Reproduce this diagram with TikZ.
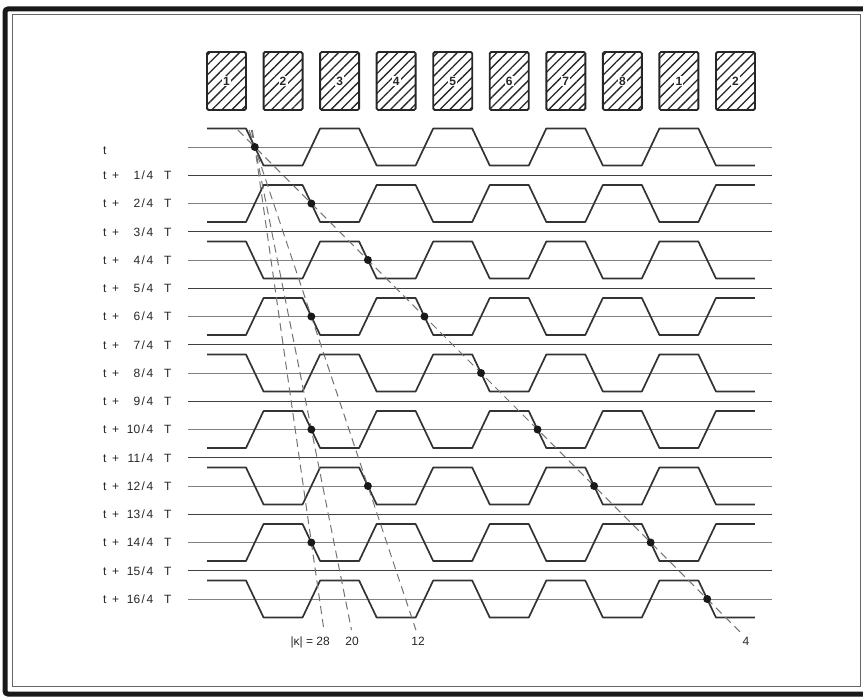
\documentclass[tikz,border=0pt]{standalone}
\usepackage{fontspec}
\setmainfont{Liberation Sans}
\usepackage{tikz}
\usetikzlibrary{positioning}
\usetikzlibrary{patterns.meta}

\begin{document}
\begin{tikzpicture}[x=1pt,y=-1pt,
  slot/.style={draw=black!85, line width=1.9pt, rounded corners=1.5pt,
    minimum width=39pt, minimum height=58pt, inner sep=0pt,
    pattern={Lines[angle=45,distance=7pt,line width=1.3pt]}, pattern color=black!85},
  slotnum/.style={fill=white, inner sep=1.2pt, font=\bfseries\fontsize{12}{12}\selectfont, text=black!85},
  wave/.style={line width=1.7pt, draw=black!80, line join=round},
  rowline/.style={line width=0.8pt, draw=black!50},
  rowlineodd/.style={line width=1.3pt, draw=black!75},
  ray/.style={line width=1pt, draw=black!55, dash pattern=on 8pt off 5pt},
  sample/.style={circle, fill=black!90, inner sep=0pt, minimum size=8pt},
  rowlbl/.style={anchor=west, inner sep=0pt, font=\fontsize{12}{12}\selectfont, text=black!85},
  kval/.style={anchor=north, inner sep=0pt, font=\fontsize{12}{12}\selectfont, text=black!85}]
  \useasboundingbox (0,0) rectangle (863,698);
  % page border
  \draw[line width=5pt, black!90, rounded corners=3pt] (863,9) -- (5,9) -- (5,694) -- (863,694);
  \draw[line width=1pt, black!60] (12,15) rectangle (860,686);
  % slots 1..8, then 1,2 again
  \foreach \n [count=\i] in {1,2,3,4,5,6,7,8,1,2} {
    \node[slot] (s\i) at ({226.5+56.55*(\i-1)},81) {};
    \node[slotnum] (n\i) at (s\i) {\n};
  }
  % time axes, one every quarter period
  \foreach \k in {0,...,16} {
    \ifodd\k
      \draw[rowlineodd] (188,{147+28.25*\k}) -- (772,{147+28.25*\k});
    \else
      \draw[rowline] (188,{147+28.25*\k}) -- (772,{147+28.25*\k});
    \fi
  }
  \node[rowlbl] (r0) at (103,151) {t};
  \foreach \k in {1,...,16}
    \node[rowlbl] (r\k) at (103,{147+28.25*\k})
      {\makebox[9pt][l]{t}\makebox[8pt][l]{+}\makebox[20pt][r]{\k}\hspace{1.5pt}/\hspace{1.5pt}4\hspace{11pt}T};
  % wave patterns at every half period
  \foreach \m in {0,...,8} {
    \pgfmathsetmacro{\yc}{147+56.5*\m}
    \pgfmathsetmacro{\ys}{\yc+18.5-37*mod(1+\m,2)}
    \draw[wave] (207,\ys)
      \foreach \i [evaluate=\i as \lx using {207+56.55*(\i-1)},
                   evaluate=\i as \lev using {\yc+18.5-37*mod(\i+\m,2)}]
        in {1,...,10} { -- (\lx,\lev) -- (\lx+39,\lev) };
  }
  % apparent motion lines
  \coordinate (k4a) at (237.8,130);  \coordinate (k4b) at (740.2,632);
  \coordinate (k12a) at (249.1,130); \coordinate (k12b) at (415.9,630);
  \coordinate (k20a) at (251.4,130); \coordinate (k20b) at (351.5,630);
  \coordinate (k28a) at (252.4,130); \coordinate (k28b) at (323.9,630);
  \draw[ray] (k4a) -- (k4b);
  \draw[ray] (k12a) -- (k12b);
  \draw[ray] (k20a) -- (k20b);
  \draw[ray] (k28a) -- (k28b);
  \foreach \m in {0,...,8}
    \node[sample] (d\m) at ({254.8+56.55*\m},{147+56.5*\m}) {};
  \node[sample] (e12a) at (311.35,316.5) {};
  \node[sample] (e12b) at (367.9,486) {};
  \node[sample] (e20) at (311.35,429.5) {};
  \node[sample] (e28) at (311.35,542.5) {};
  \node[kval] (l4) at (746,637) {4};
  \node[kval] (l12) at (418,637) {12};
  \node[kval] (l20) at (352,637) {20};
  \node[kval, anchor=north east] (l28) at (330,637) {|κ| = 28};
\end{tikzpicture}
\end{document}
